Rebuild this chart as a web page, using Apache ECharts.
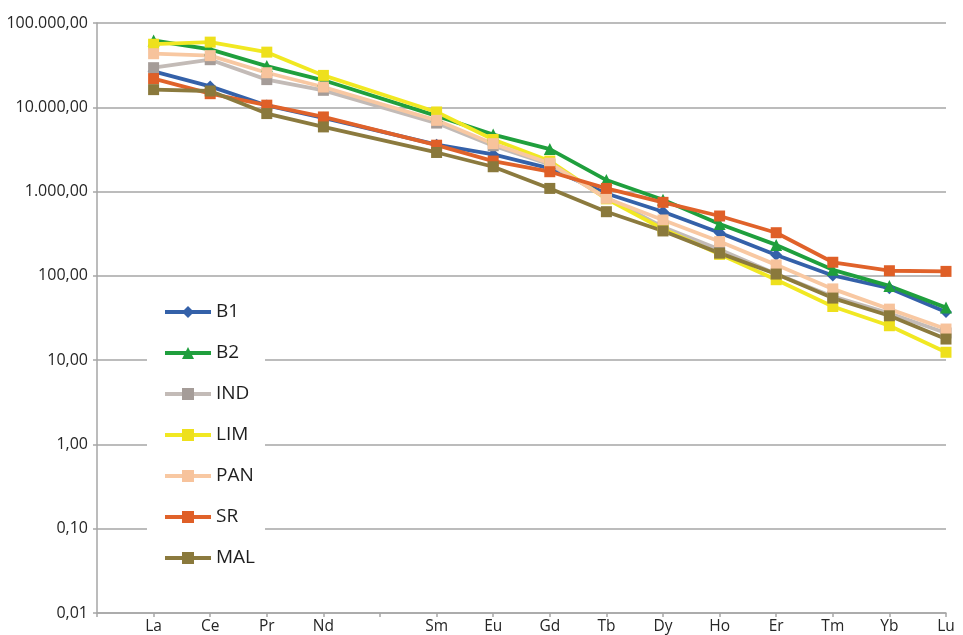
<!DOCTYPE html>
<html>
<head>
<meta charset="utf-8">
<script src="https://cdn.jsdelivr.net/npm/echarts@6/dist/echarts.min.js"></script>
<style>
  html, body { margin: 0; padding: 0; background: #fff; }
  #chart { width: 963px; height: 635px; }
</style>
</head>
<body>
<div id="chart"></div>
<script>
// REE patterns (log scale). Leading blank slot and Pm slot are empty.
const categories = ['', 'La', 'Ce', 'Pr', 'Nd', '', 'Sm', 'Eu', 'Gd', 'Tb', 'Dy', 'Ho', 'Er', 'Tm', 'Yb', 'Lu'];

const B1  = [null, 26700, 17700, 10500, 7500, null, 3600, 2760, 1880, 950, 577, 325, 177, 101, 71.5, 37.2];
const B2  = [null, 62000, 48600, 30800, 20900, null, 7900, 4750, 3190, 1370, 800, 412, 233, 118, 76, 42];
const IND = [null, 29500, 36700, 21300, 15900, null, 6500, 3500, 2100, 850, 380, 205, 105, 57, 36, 21];
const LIM = [null, 56000, 59300, 45100, 23900, null, 8800, 4150, 2300, 820, 360, 180, 90, 43.3, 25.6, 12.4];
const PAN = [null, 43200, 41000, 25700, 17400, null, 7000, 3700, 2170, 832, 460, 255, 135, 70, 40.3, 23.4];
const SR  = [null, 21900, 14500, 10600, 7680, null, 3550, 2300, 1720, 1090, 745, 513, 325, 145, 115, 113];
const MAL = [null, 16200, 15600, 8420, 5850, null, 2910, 1970, 1090, 577, 341, 186, 105, 54.5, 33.6, 17.8];

const seriesDefs = [
  { name: 'B1',  data: B1,  line: '#3461a9', marker: '#3461a9', symbol: 'diamond',  size: 12 },
  { name: 'B2',  data: B2,  line: '#1f9f3d', marker: '#1f9f3d', symbol: 'triangle', size: 12 },
  { name: 'IND', data: IND, line: '#c3bbb7', marker: '#a59c98', symbol: 'rect',     size: 11 },
  { name: 'LIM', data: LIM, line: '#f1e822', marker: '#eee01c', symbol: 'rect',     size: 11 },
  { name: 'PAN', data: PAN, line: '#f8c8a2', marker: '#f7c39c', symbol: 'rect',     size: 11 },
  { name: 'SR',  data: SR,  line: '#e0622a', marker: '#df5f27', symbol: 'rect',     size: 11 },
  { name: 'MAL', data: MAL, line: '#8b7a3e', marker: '#8a793c', symbol: 'rect',     size: 11 }
];

function formatNumber(v) {
  const s = (Math.round(v * 100) / 100).toFixed(2);
  const parts = s.split('.');
  return parts[0].replace(/\B(?=(\d{3})+(?!\d))/g, '.') + ',' + parts[1];
}

const chart = echarts.init(document.getElementById('chart'), null, { renderer: 'canvas' });
const axisGray = '#a6a6a6';
const font = '"Open Sans", "Noto Sans", sans-serif';

chart.setOption({
  backgroundColor: '#ffffff',
  animation: false,
  grid: { left: 97, right: 17, top: 23, bottom: 21, containLabel: false },
  legend: {
    orient: 'vertical',
    left: 147,
    top: 290,
    padding: [12, 10, 12, 16],
    backgroundColor: '#ffffff',
    itemWidth: 46,
    itemHeight: 15,
    itemGap: 21,
    lineStyle: { width: 4 },
    textStyle: { fontFamily: font, fontSize: 19, color: '#1e1e1e', lineHeight: 20 },
    data: seriesDefs.map(d => d.name)
  },
  xAxis: {
    type: 'category',
    data: categories,
    boundaryGap: false,
    axisLine: { lineStyle: { color: axisGray, width: 1.5 } },
    axisTick: { show: true, interval: 0, length: 4, lineStyle: { color: axisGray, width: 1.5 } },
    axisLabel: { interval: 0, fontFamily: font, fontSize: 15.5, color: '#262626', margin: 6 },
    splitLine: { show: false }
  },
  yAxis: {
    type: 'log',
    logBase: 10,
    min: 0.01,
    max: 100000,
    axisLine: { show: true, lineStyle: { color: axisGray, width: 1.5 } },
    axisTick: { show: true, length: 4, lineStyle: { color: axisGray, width: 1.5 } },
    axisLabel: { fontFamily: font, fontSize: 16, color: '#262626', margin: 9, formatter: formatNumber },
    splitLine: { show: true, lineStyle: { color: axisGray, width: 1.5 } },
    minorTick: { show: false }
  },
  series: seriesDefs.map(d => ({
    name: d.name,
    type: 'line',
    data: d.data,
    connectNulls: true,
    symbol: d.symbol,
    symbolSize: d.size,
    showAllSymbol: true,
    lineStyle: { color: d.line, width: 3.8 },
    itemStyle: { color: d.marker, borderWidth: 0 },
    emphasis: { disabled: true }
  }))
});
</script>
</body>
</html>
